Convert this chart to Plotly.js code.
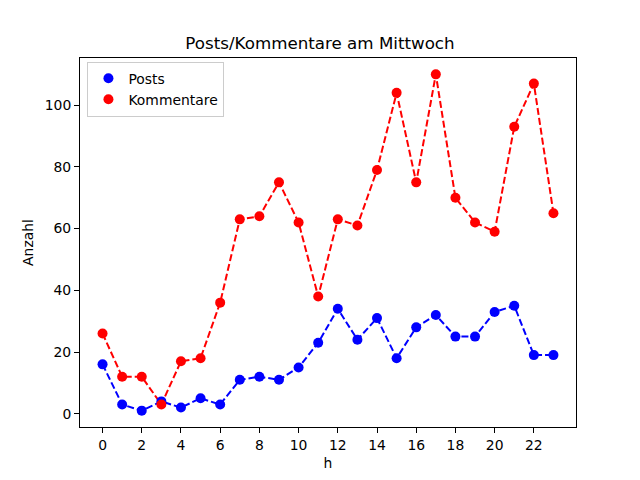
<!DOCTYPE html>
<html>
<head>
<meta charset="utf-8">
<script src="https://cdn.plot.ly/plotly-3.0.1.min.js"></script>
<style>html,body{margin:0;padding:0;background:#fff;}#chart{width:640px;height:480px;}</style>
</head>
<body>
<div id="chart"></div>
<script>
const hours = [0,1,2,3,4,5,6,7,8,9,10,11,12,13,14,15,16,17,18,19,20,21,22,23];
const posts = [16,3,1,4,2,5,3,11,12,11,15,23,34,24,31,18,28,32,25,25,33,35,19,19];
const kommentare = [26,12,12,3,17,18,36,63,64,75,62,38,63,61,79,104,75,110,70,62,59,93,107,65];
const xTicks = [0,2,4,6,8,10,12,14,16,18,20,22];
const yTicks = [0,20,40,60,80,100];

const font = {family: 'DejaVu Sans', size: 13.9, color: '#000'};

const traces = [
  {x: hours, y: posts, mode: 'lines', line: {color: 'blue', width: 2, dash: '7px,3px'}, showlegend: false, hoverinfo: 'skip'},
  {x: hours, y: kommentare, mode: 'lines', line: {color: 'red', width: 2, dash: '7px,3px'}, showlegend: false, hoverinfo: 'skip'},
  {x: hours, y: posts, mode: 'markers', name: 'Posts', marker: {color: 'blue', size: 10}},
  {x: hours, y: kommentare, mode: 'markers', name: 'Kommentare', marker: {color: 'red', size: 10}}
];

const axisCommon = {
  showgrid: false, zeroline: false, showline: true, linecolor: '#000', linewidth: 1,
  mirror: true, ticks: 'outside', ticklen: 5, tickwidth: 1, tickcolor: '#000',
  tickfont: font
};

const layout = {
  width: 640, height: 480,
  margin: {l: 80, r: 64, t: 58, b: 53},
  paper_bgcolor: '#fff', plot_bgcolor: '#fff',
  font: font,
  title: {text: 'Posts/Kommentare am Mittwoch', font: {family: 'DejaVu Sans', size: 16.7, color: '#000'}, x: 0.5, xanchor: 'center', y: 0.91, yanchor: 'middle'},
  xaxis: Object.assign({}, axisCommon, {
    range: [-1.15, 24.15], tickvals: xTicks, ticktext: xTicks.map(String),
    title: {text: 'h', font: font, standoff: 6}
  }),
  yaxis: Object.assign({}, axisCommon, {
    range: [-4.3, 115.3], tickvals: yTicks, ticktext: yTicks.map(String),
    title: {text: 'Anzahl', font: font, standoff: 7}
  }),
  legend: {
    x: 0.015, y: 0.99, xanchor: 'left', yanchor: 'top',
    bgcolor: 'rgba(255,255,255,0.8)', bordercolor: '#ccc', borderwidth: 1,
    font: font, itemwidth: 30
  },
  showlegend: true
};

Plotly.newPlot('chart', traces, layout, {staticPlot: true, displayModeBar: false});
</script>
</body>
</html>
